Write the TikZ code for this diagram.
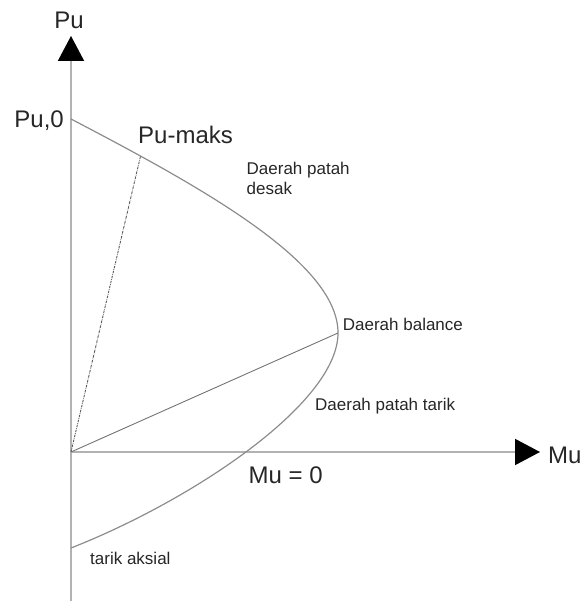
\documentclass[tikz,border=0pt]{standalone}
\usepackage{fontspec}
\setmainfont{Liberation Sans}
\usetikzlibrary{arrows.meta}

\begin{document}
\begin{tikzpicture}[x=1pt,y=1pt,
  axis/.style={line width=2pt,draw=black!30,-{Triangle[length=25pt,width=26pt,color=black]}},
  capacity/.style={line width=1.2pt,draw=black!45},
  bigtxt/.style={inner sep=0pt,text=black!85,font=\fontsize{24}{28}\selectfont},
  smalltxt/.style={inner sep=0pt,text=black!85,font=\fontsize{17}{20.7}\selectfont,align=left}]
  \useasboundingbox (-71,-149) rectangle (512,452);
  \coordinate (O) at (0,0);
  \coordinate (ybot) at (0,-149);
  \coordinate (ytop) at (0,416);
  \coordinate (xend) at (469,0);
  \coordinate (pu0) at (0,333);
  \coordinate (bal) at (267,119);
  \coordinate (tarik) at (0,-96);
  % sumbu Pu dan Mu
  \draw[axis] (ybot) -- (ytop);
  \draw[axis] (O) -- (xend);
  % kurva interaksi
  \draw[capacity] (pu0) .. controls (134,263) and (267,189) .. (bal)
    coordinate[pos=0.175] (pmaks)
    .. controls (267,49) and (122,-48) .. (tarik);
  \draw[line width=0.9pt,draw=black!65,dash pattern=on 2.5pt off 1pt on 0.6pt off 1pt] (O) -- (pmaks);
  \draw[line width=0.9pt,draw=black!55] (O) -- (bal);
  % label
  \node[bigtxt,anchor=base] (pulbl) at (-2,423.7) {Pu};
  \node[bigtxt,anchor=base east] (pu0lbl) at (-7,324.7) {Pu,0};
  \node[bigtxt,anchor=base west] (pmakslbl) at (67,308) {Pu-maks};
  \node[bigtxt,anchor=base west] (mulbl) at (477,-12) {Mu};
  \node[bigtxt,anchor=base west] (mu0lbl) at (177.5,-31.5) {Mu = 0};
  \node[smalltxt,anchor=base west] (desak) at (175.5,257) {Daerah patah\\desak};
  \node[smalltxt,anchor=base west] (balance) at (271.7,121.3) {Daerah balance};
  \node[smalltxt,anchor=base west] (tariklbl) at (244,41.3) {Daerah patah tarik};
  \node[smalltxt,anchor=base west] (aksial) at (19,-112) {tarik aksial};
\end{tikzpicture}
\end{document}
